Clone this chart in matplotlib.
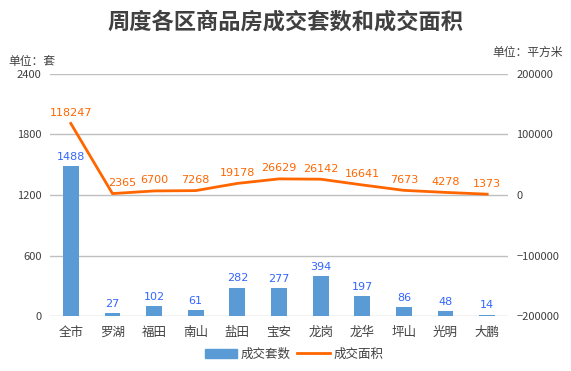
import matplotlib.pyplot as plt
import numpy as np

plt.rcParams['font.family'] = ['Noto Sans CJK SC', 'DejaVu Sans']

districts = ['全市', '罗湖', '福田', '南山', '盐田', '宝安', '龙岗', '龙华', '坪山', '光明', '大鹏']
units = [1488, 27, 102, 61, 282, 277, 394, 197, 86, 48, 14]
area = [118247, 2365, 6700, 7268, 19178, 26629, 26142, 16641, 7673, 4278, 1373]

bar_color = '#5B9BD5'
line_color = '#FF6600'
x = np.arange(len(districts))

fig = plt.figure(figsize=(5.71, 3.71), dpi=100)
ax = fig.add_axes([50/571, 1-316/371, 458/571, 242/371])
ax2 = ax.twinx()

ax.bar(x, units, width=0.38, color=bar_color, zorder=2)
for xi, v in zip(x, units):
    ax.annotate(str(v), (xi, v), xytext=(0, 3), textcoords='offset points',
                ha='center', va='bottom', fontsize=8, color='#3366FF', family='DejaVu Sans')

ax.set_ylim(0, 2400)
ax.set_yticks([0, 600, 1200, 1800, 2400])
ax.set_xlim(-0.5, len(districts)-0.5)
ax.set_xticks(x)
ax.set_xticklabels(districts, fontsize=9, color='#404040')
ax.grid(axis='y', color='#BFBFBF', linewidth=1, zorder=0)
ax.set_axisbelow(True)

ax2.plot(x, area, color=line_color, linewidth=2, zorder=3)
for i, (xi, v) in enumerate(zip(x, area)):
    dx = 7 if i == 1 else 0
    ax2.annotate(str(v), (xi, v), xytext=(dx, 4), textcoords='offset points',
                 ha='center', va='bottom', fontsize=8, color=line_color, family='DejaVu Sans')
ax2.set_ylim(-200000, 200000)
ax2.set_yticks([-200000, -100000, 0, 100000, 200000])

for a in (ax, ax2):
    for s in a.spines.values():
        s.set_visible(False)
    a.tick_params(length=0, labelsize=8, labelcolor='#404040', pad=6)
ax.tick_params(axis='x', pad=7, labelsize=9)

fig.text(0.5, 1-22/371, '周度各区商品房成交套数和成交面积', ha='center', va='center',
         fontsize=16, fontweight='bold', color='#404040')
fig.text(8/571, 1-61/371, '单位：套', ha='left', va='center', fontsize=8.5, color='#404040')
fig.text(563/571, 1-52/371, '单位：平方米', ha='right', va='center', fontsize=8.5, color='#404040')

h1 = plt.Rectangle((0, 0), 1, 1, color=bar_color)
h2 = plt.Line2D([], [], color=line_color, linewidth=2)
fig.legend([h1, h2], ['成交套数', '成交面积'], loc='center', bbox_to_anchor=(0.515, 1-354/371),
           ncol=2, frameon=False, fontsize=9, handlelength=2.6, columnspacing=0.5,
           handletextpad=0.3, labelcolor='#404040')

fig.savefig('out.png', dpi=100)
